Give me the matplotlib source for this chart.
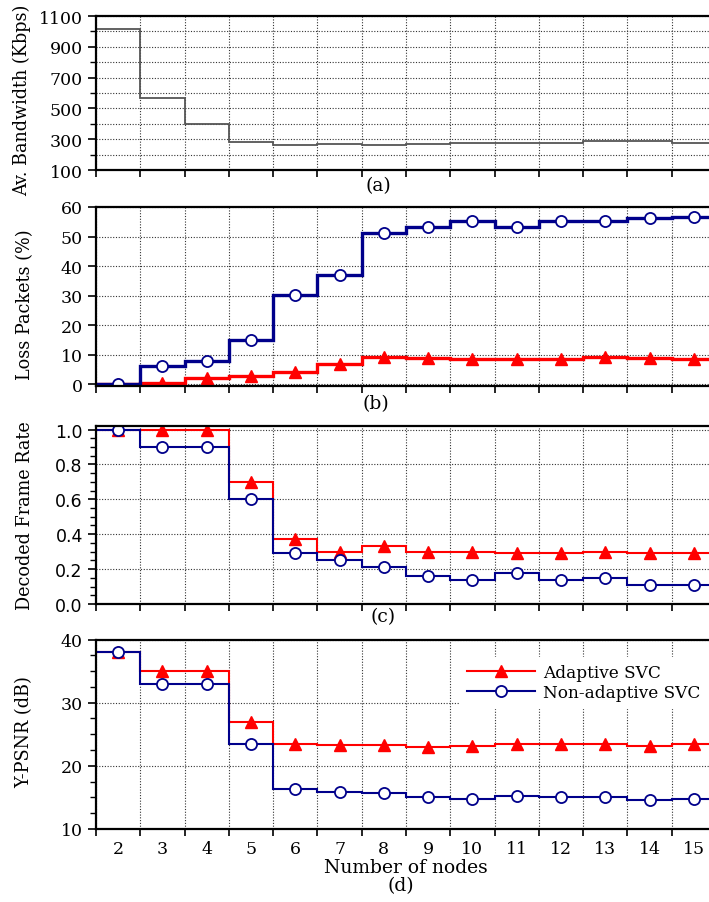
import numpy as np
import matplotlib
matplotlib.use('Agg')
import matplotlib.pyplot as plt
from matplotlib.lines import Line2D
from matplotlib.ticker import MultipleLocator, FixedLocator

plt.rcParams['font.family'] = 'DejaVu Serif'
plt.rcParams['font.size'] = 13.5
plt.rcParams['xtick.labelsize'] = 12.5
plt.rcParams['ytick.labelsize'] = 12.5

# number of nodes
nodes = np.arange(2, 16)
edges = np.arange(1.5, 16.5, 1.0)

# (a) available bandwidth (Kbps)
bandwidth = [1013, 565, 396, 283, 263, 270, 263, 272, 276, 276, 274, 287, 287, 274]
bw_ticks = [100, 300, 500, 700, 900, 1100]

# (b) loss packets (%)
loss_adaptive = [0.0, 0.5, 2.3, 2.9, 4.1, 7.0, 9.1, 8.8, 8.7, 8.7, 8.6, 9.2, 9.0, 8.4]
loss_nonadaptive = [0.0, 6.1, 8.0, 15.1, 30.2, 37.1, 51.1, 53.2, 55.1, 53.2, 55.1, 55.1, 56.3, 56.7]

# (c) decoded frame rate
dfr_adaptive = [1.0, 1.0, 1.0, 0.70, 0.37, 0.30, 0.333, 0.30, 0.30, 0.29, 0.29, 0.30, 0.29, 0.29]
dfr_nonadaptive = [1.0, 0.90, 0.90, 0.60, 0.29, 0.25, 0.21, 0.16, 0.14, 0.18, 0.14, 0.15, 0.11, 0.11]

# (d) Y-PSNR (dB)
psnr_adaptive = [38.0, 35.0, 35.0, 27.0, 23.5, 23.3, 23.3, 23.0, 23.1, 23.5, 23.4, 23.5, 23.1, 23.4]
psnr_nonadaptive = [38.0, 33.0, 33.0, 23.4, 16.4, 15.8, 15.7, 15.1, 14.8, 15.2, 15.0, 15.0, 14.6, 14.7]

RED = '#ff0000'
BLUE = '#00008b'

fig = plt.figure(figsize=(7.09, 9.03), dpi=100)
W, H = 709, 903
left = 96 / W
width = (716 - 96) / W


def make_ax(top, bottom):
    return fig.add_axes([left, 1 - bottom / H, width, (bottom - top) / H])


def ylab(text, x, y):
    fig.text(x / W, 1 - y / H, text, rotation=90, ha='center', va='center', fontsize=12.7)


def style(ax, show_labels=False):
    ax.set_xlim(1.5, 15.5)
    ax.xaxis.set_major_locator(FixedLocator(edges[:-1]))
    ax.xaxis.set_minor_locator(FixedLocator(nodes))
    ax.tick_params(axis='x', which='major', direction='out', length=5, width=1.2, labelbottom=False)
    ax.tick_params(axis='x', which='minor', length=0, labelbottom=show_labels, pad=8)
    ax.tick_params(axis='y', which='major', direction='out', length=6, width=1.2)
    ax.tick_params(axis='y', which='minor', direction='out', length=4, width=1.0)
    ax.grid(True, which='major', linestyle=(0, (1, 1.5)), color='#333333', linewidth=0.8)
    ax.set_axisbelow(True)
    for s in ax.spines.values():
        s.set_linewidth(1.6)
    ax.spines['right'].set_visible(False)
    if show_labels:
        ax.set_xticks(nodes, minor=True)
        ax.set_xticklabels([str(n) for n in nodes], minor=True)


def pair(ax, a, b, lw):
    ax.stairs(a, edges, baseline=None, color=RED, linewidth=lw)
    ax.plot(nodes, a, linestyle='none', marker='^', markersize=8,
            color=RED, markeredgecolor=RED)
    ax.stairs(b, edges, baseline=None, color=BLUE, linewidth=lw)
    ax.plot(nodes, b, linestyle='none', marker='o', markersize=8,
            markerfacecolor='white', markeredgecolor=BLUE, markeredgewidth=1.3)


# (a)
ax1 = make_ax(17, 171)
ax1.stairs(bandwidth, edges, baseline=None, color='#555555', linewidth=1.3)
ax1.set_ylim(100, 1100)
ax1.yaxis.set_major_locator(FixedLocator(bw_ticks))
ax1.yaxis.set_minor_locator(MultipleLocator(100))
style(ax1)
ax1.grid(True, which='minor', axis='y', linestyle=(0, (1, 1.5)), color='#333333', linewidth=0.8)
ylab('Av. Bandwidth (Kbps)', 22, 100)
fig.text(378 / W, 1 - 186 / H, '(a)', ha='center', va='center')

# (b)
ax2 = make_ax(208, 386.5)
pair(ax2, loss_adaptive, loss_nonadaptive, 2.4)
ax2.set_ylim(-0.4, 60)
ax2.yaxis.set_major_locator(MultipleLocator(10))
style(ax2)
ylab('Loss Packets (%)', 25, 305)
fig.text(376 / W, 1 - 404 / H, '(b)', ha='center', va='center')

# (c)
ax3 = make_ax(426.5, 605)
pair(ax3, dfr_adaptive, dfr_nonadaptive, 1.5)
ax3.set_ylim(0, 1.023)
ax3.yaxis.set_major_locator(MultipleLocator(0.2))
ax3.yaxis.set_minor_locator(MultipleLocator(0.05))
style(ax3)
for t in ax3.get_yticklabels():
    t.set_family('DejaVu Sans')
ylab('Decoded Frame Rate', 25, 516)
fig.text(383 / W, 1 - 617 / H, '(c)', ha='center', va='center')

# (d)
ax4 = make_ax(640.5, 830)
pair(ax4, psnr_adaptive, psnr_nonadaptive, 1.5)
ax4.set_ylim(10, 40)
ax4.yaxis.set_major_locator(MultipleLocator(10))
ax4.yaxis.set_minor_locator(MultipleLocator(2.5))
style(ax4, show_labels=True)
ylab('Y-PSNR (dB)', 24, 732)
ax4.set_xlabel('Number of nodes', labelpad=1)
fig.text(401 / W, 1 - 886 / H, '(d)', ha='center', va='center')

handles = [
    Line2D([], [], color=RED, linewidth=1.5, marker='^', markersize=8),
    Line2D([], [], color=BLUE, linewidth=1.5, marker='o', markersize=8,
           markerfacecolor='white', markeredgecolor=BLUE, markeredgewidth=1.3),
]
leg = ax4.legend(handles, ['Adaptive SVC', 'Non-adaptive SVC'],
                 loc='upper right', bbox_to_anchor=(1.0, 0.95), fontsize=12.2,
                 frameon=True, fancybox=False, edgecolor='white', framealpha=1.0,
                 handlelength=4.0, labelspacing=0.15, borderpad=0.4, handletextpad=0.5)

fig.savefig('out.png', dpi=100)
